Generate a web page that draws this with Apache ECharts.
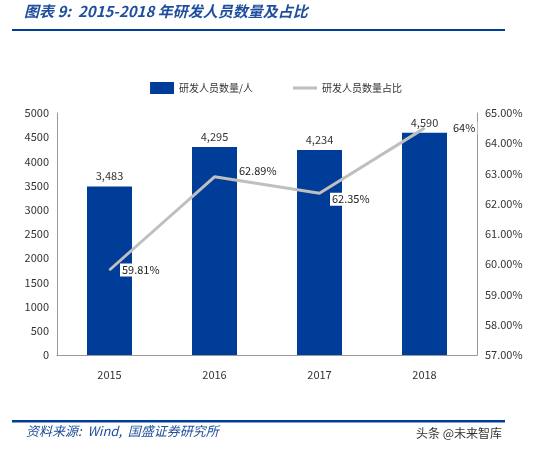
<!DOCTYPE html>
<html><head><meta charset="utf-8">
<script src="https://cdn.jsdelivr.net/npm/echarts@6/dist/echarts.min.js"></script>
<style>html,body{margin:0;padding:0;background:#fff}#c{width:552px;height:450px}</style>
</head><body><div id="c"></div>
<script>
var years = ['2015', '2016', '2017', '2018'];
var staff = [3483, 4295, 4234, 4590];
var ratio = [59.81, 62.89, 62.35, 64.5];
var ratioLabels = ['59.81%', '62.89%', '62.35%', '64%'];
// label offsets (style only)
var labelOffsets = [[4, 0], [16, -6], [4, 6], [20, 0]];

var chart = echarts.init(document.getElementById('c'));
var font = '"Noto Sans CJK SC", sans-serif';
chart.setOption({
  animation: false,
  textStyle: {fontFamily: font},
  graphic: [
    {type: 'text', left: 24, top: 4, style: {text: '图表 9:  2015-2018 年研发人员数量及占比', fontSize: 15, fontStyle: 'italic', fontWeight: 'bold', fill: '#1f4e9c', fontFamily: font}},
    {type: 'rect', shape: {x: 12, y: 29, width: 493, height: 2}, style: {fill: '#003d99'}},
    {type: 'rect', shape: {x: 12, y: 420, width: 493, height: 2.5}, style: {fill: '#003d99'}},
    {type: 'text', left: 26, top: 425, style: {text: '资料来源:  Wind,  国盛证券研究所', fontSize: 13, fontStyle: 'italic', fill: '#1f4e9c', fontFamily: font}},
    {type: 'text', left: 416, top: 427, style: {text: '头条 @未来智库', fontSize: 12, fill: '#333', fontFamily: font}}
  ],
  legend: {
    top: 77, left: 'center', itemGap: 40, itemWidth: 24, itemHeight: 12,
    textStyle: {fontSize: 10, color: '#333'},
    data: [
      {name: '研发人员数量/人', icon: 'rect'},
      {name: '研发人员数量占比', icon: 'path://M0,10h24v3h-24z'}
    ]
  },
  grid: {left: 57, right: 75, top: 113, bottom: 95},
  xAxis: {
    type: 'category', data: years,
    axisLine: {lineStyle: {color: '#999'}}, axisTick: {show: false},
    axisLabel: {color: '#333', fontSize: 11, margin: 14}
  },
  yAxis: [
    {type: 'value', min: 0, max: 5000, interval: 500,
      splitLine: {show: false}, axisLine: {show: true, lineStyle: {color: '#999'}},
      axisLabel: {color: '#333', fontSize: 11, formatter: function (v) { return String(v); }}},
    {type: 'value', min: 57, max: 65, interval: 1,
      splitLine: {show: false}, axisLine: {show: true, lineStyle: {color: '#999'}},
      axisLabel: {color: '#333', fontSize: 11, formatter: function (v) { return v.toFixed(2) + '%'; }}}
  ],
  series: [
    {name: '研发人员数量/人', type: 'bar', data: staff, barWidth: 45,
      itemStyle: {color: '#003d99'},
      label: {show: true, position: 'top', color: '#333', fontSize: 11,
        formatter: function (p) { return p.value.toLocaleString('en-US'); }}},
    {name: '研发人员数量占比', type: 'line', yAxisIndex: 1,
      data: ratio.map(function (v, i) {
        return {value: v, label: {offset: labelOffsets[i]}};
      }),
      symbol: 'circle', symbolSize: 1, showSymbol: true,
      lineStyle: {color: '#bfbfbf', width: 3}, itemStyle: {color: '#bfbfbf'},
      label: {show: true, position: 'right', color: '#222', fontSize: 11, distance: 6,
        backgroundColor: '#fff', padding: [1, 2],
        formatter: function (p) { return ratioLabels[p.dataIndex]; }}}
  ]
});
</script></body></html>
